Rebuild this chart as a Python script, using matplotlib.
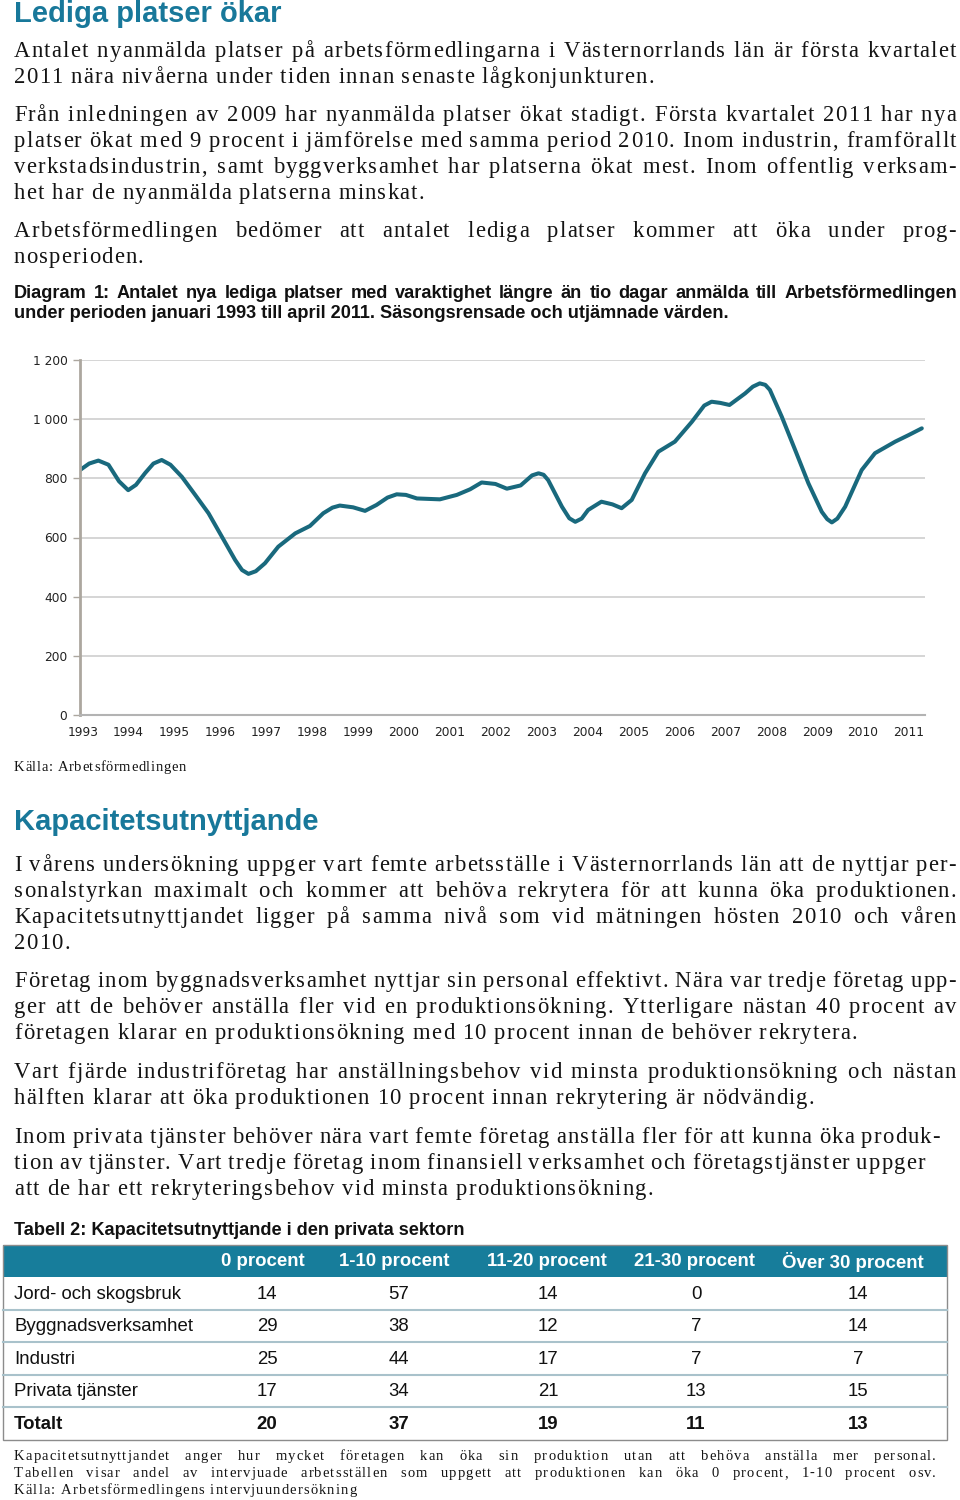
import matplotlib
matplotlib.use("Agg")
import matplotlib.pyplot as plt
from matplotlib.patches import Rectangle
from matplotlib import font_manager
from matplotlib.ft2font import FT2Font

# --- DATA: Diagram 1, nya lediga platser (avläst, säsongsrensat) ---
ar = [1993.00, 1993.20, 1993.40, 1993.62, 1993.85, 1994.05, 1994.22, 1994.42, 1994.60,
      1994.78, 1994.97, 1995.22, 1995.51, 1995.80, 1996.09, 1996.38, 1996.53, 1996.67,
      1996.83, 1997.03, 1997.32, 1997.69, 1998.01, 1998.30, 1998.50, 1998.66, 1998.95,
      1999.21, 1999.46, 1999.70, 1999.90, 2000.10, 2000.34, 2000.84, 2001.21, 2001.50,
      2001.75, 2002.05, 2002.30, 2002.60, 2002.85, 2002.99, 2003.10, 2003.20, 2003.50,
      2003.66, 2003.79, 2003.93, 2004.07, 2004.36, 2004.60, 2004.80, 2005.02, 2005.31,
      2005.60, 2005.96, 2006.33, 2006.60, 2006.76, 2006.95, 2007.15, 2007.49, 2007.66,
      2007.81, 2007.93, 2008.03, 2008.29, 2008.58, 2008.87, 2009.16, 2009.28, 2009.38,
      2009.50, 2009.67, 2010.03, 2010.32, 2010.76, 2011.05, 2011.34]
platser = [828, 850, 860, 846, 790, 760, 778, 818, 850,
           862, 846, 805, 744, 682, 603, 524, 490, 477,
           486, 513, 569, 614, 639, 682, 701, 708, 702,
           690, 710, 735, 746, 744, 732, 729, 744, 763,
           786, 781, 765, 776, 810, 817, 812, 794, 704,
           665, 653, 664, 693, 721, 712, 699, 727, 817,
           890, 924, 991, 1046, 1059, 1055, 1048, 1087, 1110,
           1121, 1116, 1099, 1008, 896, 783, 687, 662, 651,
           664, 704, 828, 885, 924, 946, 969]

ar_etiketter = list(range(1993, 2012))
y_ticks = [0, 200, 400, 600, 800, 1000, 1200]
y_etiketter = ["0", "200", "400", "600", "800", "1 000", "1 200"]

# --- DATA: Tabell 2 ---
kolumner = ["0 procent", "1-10 procent", "11-20 procent", "21-30 procent", "Över 30 procent"]
branscher = ["Jord- och skogsbruk", "Byggnadsverksamhet", "Industri", "Privata tjänster", "Totalt"]
andel_0 = [14, 29, 25, 17, 20]
andel_1_10 = [57, 38, 44, 34, 37]
andel_11_20 = [14, 12, 17, 21, 19]
andel_21_30 = [0, 7, 7, 13, 11]
andel_over_30 = [14, 14, 7, 15, 13]

TEAL = "#18789a"
SANS = "Liberation Sans"
SERIF = "Liberation Serif"
SVART = "#141414"

W, H = 960, 1500
fig = plt.figure(figsize=(9.6, 15), dpi=100)
page = fig.add_axes([0, 0, 1, 1])
page.set_xlim(0, W)
page.set_ylim(H, 0)
page.axis("off")
renderer = fig.canvas.get_renderer()

_fonter = {}


def adv(ch, family, size):
    # teckenbredd (advance) i pixlar
    key = (family, size)
    if key not in _fonter:
        f = FT2Font(font_manager.findfont(font_manager.FontProperties(family=family)))
        f.set_size(size, 100)
        _fonter[key] = (f, {})
    f, cache = _fonter[key]
    if ch not in cache:
        g = f.load_char(ord(ch))
        cache[ch] = g.linearHoriAdvance / 65536
    return cache[ch]


def sparrad(txt, x, y, right=None, spar=1.2, size=16.3, family=SERIF, color=SVART):
    # rad med spärrad text (extra teckenavstånd), marginaljusterad om right anges
    ord_ = txt.split(" ")
    rena = [sum(adv(c, family, size) for c in w) for w in ord_]
    antal = sum(len(w) - 1 for w in ord_)
    if right is not None:
        min_gap = 4
        ledigt = right - x - sum(rena) - min_gap * (len(ord_) - 1)
        spar = min(spar, ledigt / max(antal, 1))
    bredd = [r + spar * (len(w) - 1) for r, w in zip(rena, ord_)]
    if right is None:
        gap = adv(" ", family, size) + 2 * spar
    else:
        gap = (right - x - sum(bredd)) / max(len(ord_) - 1, 1)
    pos = x
    for w, b in zip(ord_, bredd):
        p = pos
        for c in w:
            page.text(p, y, c, family=family, fontsize=size, color=color, va="baseline")
            p += adv(c, family, size) + spar
        pos += b + gap


def stycke(rader, y0, dy=26, x=14, right=956, **kw):
    for i, r in enumerate(rader):
        hog = right if i < len(rader) - 1 else None
        sparrad(r, x, y0 + i * dy, hog, **kw)


def rad(txt, x, y, right=None, **kw):
    # vanlig rad (ordvis justering)
    if right is None:
        page.text(x, y, txt, va="baseline", **kw)
        return
    ord_ = txt.split(" ")
    objs = [page.text(0, y, w, va="baseline", **kw) for w in ord_]
    bredd = [o.get_window_extent(renderer).width for o in objs]
    gap = (right - x - sum(bredd)) / max(len(ord_) - 1, 1)
    pos = x
    for o, b in zip(objs, bredd):
        o.set_x(pos)
        pos += b + gap


# --- Avsnitt 1 ---
page.text(14, 22, "Lediga platser ökar", family=SANS, fontweight="bold",
          fontsize=21, color=TEAL, va="baseline")
stycke(["Antalet nyanmälda platser på arbetsförmedlingarna i Västernorrlands län är första kvartalet",
        "2011 nära nivåerna under tiden innan senaste lågkonjunkturen."], 57)
stycke(["Från inledningen av 2009 har nyanmälda platser ökat stadigt. Första kvartalet 2011 har nya",
        "platser ökat med 9 procent i jämförelse med samma period 2010. Inom industrin, framförallt",
        "verkstadsindustrin, samt byggverksamhet har platserna ökat mest. Inom offentlig verksam-",
        "het har de nyanmälda platserna minskat."], 121)
stycke(["Arbetsförmedlingen bedömer att antalet lediga platser kommer att öka under prog-",
        "nosperioden."], 237)

CAP = dict(family=SANS, fontweight="bold", fontsize=13.1, color="#111111")
rad("Diagram 1: Antalet nya lediga platser med varaktighet längre än tio dagar anmälda till Arbetsförmedlingen",
    14, 298, 957, **CAP)
rad("under perioden januari 1993 till april 2011. Säsongsrensade och utjämnade värden.", 14, 318, **CAP)

# --- Diagram ---
ax = fig.add_axes([80 / W, 1 - 715 / H, 845 / W, 355 / H])
ax.plot(ar, platser, color="#19697d", lw=2.9, solid_joinstyle="round", solid_capstyle="round")
ax.set_xlim(1993, 1993 + 845 / 45.9)
ax.set_ylim(0, 1200)
ax.set_yticks(y_ticks)
ax.set_yticklabels(y_etiketter, family="DejaVu Sans", fontsize=8.8, color="#222222")
ax.set_xticks([a + 0.06 for a in ar_etiketter])
ax.set_xticklabels([str(a) for a in ar_etiketter], family="DejaVu Sans", fontsize=8.8,
                   color="#222222")
ax.yaxis.grid(True, color="#cacaca", lw=1.1)
ax.set_axisbelow(True)
ax.spines["top"].set_visible(False)
ax.spines["right"].set_visible(False)
ax.spines["left"].set_color("#aca79f")
ax.spines["left"].set_linewidth(2)
ax.spines["bottom"].set_color("#b3b3b3")
ax.spines["bottom"].set_linewidth(1.5)
ax.tick_params(axis="x", length=0, pad=8)
ax.tick_params(axis="y", length=5, width=1, color="#aca79f", pad=4)

sparrad("Källa: Arbetsförmedlingen", 14, 771, spar=0.6, size=10.5)

# --- Avsnitt 2 ---
page.text(14, 830, "Kapacitetsutnyttjande", family=SANS, fontweight="bold",
          fontsize=21, color=TEAL, va="baseline")
stycke(["I vårens undersökning uppger vart femte arbetsställe i Västernorrlands län att de nyttjar per-",
        "sonalstyrkan maximalt och kommer att behöva rekrytera för att kunna öka produktionen.",
        "Kapacitetsutnyttjandet ligger på samma nivå som vid mätningen hösten 2010 och våren",
        "2010."], 871)
stycke(["Företag inom byggnadsverksamhet nyttjar sin personal effektivt. Nära var tredje företag upp-",
        "ger att de behöver anställa fler vid en produktionsökning. Ytterligare nästan 40 procent av",
        "företagen klarar en produktionsökning med 10 procent innan de behöver rekrytera."], 987)
stycke(["Vart fjärde industriföretag har anställningsbehov vid minsta produktionsökning och nästan",
        "hälften klarar att öka produktionen 10 procent innan rekrytering är nödvändig."], 1078)
sparrad("Inom privata tjänster behöver nära vart femte företag anställa fler för att kunna öka produk-",
        14, 1143, 940)
sparrad("tion av tjänster. Vart tredje företag inom finansiell verksamhet och företagstjänster uppger",
        14, 1169, 925)
sparrad("att de har ett rekryteringsbehov vid minsta produktionsökning.", 14, 1195)

# --- Tabell 2 ---
page.text(14, 1235, "Tabell 2: Kapacitetsutnyttjande i den privata sektorn", family=SANS,
          fontweight="bold", fontsize=13.1, color="#111111", va="baseline")

x0, x1 = 3, 947
h_top, h_bot = 1245, 1277
rad_h = 32.5
page.add_patch(Rectangle((x0, h_top), x1 - x0, h_bot - h_top, color="#177d9b", lw=0))
kol_x = [263, 394, 547, 694, 853]
for j, k in enumerate(kolumner):
    page.text(kol_x[j], (h_top + h_bot) / 2 + 1, k, ha="center", va="center", color="white",
              fontweight="bold", fontsize=13.4, family=SANS)

varden = list(zip(andel_0, andel_1_10, andel_11_20, andel_21_30, andel_over_30))
val_x = [267, 399, 548, 696, 858]
for i, b in enumerate(branscher):
    yc = h_bot + (i + 0.5) * rad_h + 1
    vikt = "bold" if b == "Totalt" else "normal"
    page.text(14, yc, b, va="center", fontsize=13.4, family=SANS, fontweight=vikt, color="#111111")
    for j, v in enumerate(varden[i]):
        page.text(val_x[j], yc, str(v), ha="center", va="center", fontsize=13.4, family=SANS,
                  fontweight=vikt, color="#111111")
    if i < len(branscher) - 1:
        page.plot([x0, x1], [h_bot + (i + 1) * rad_h] * 2, color="#a9c2cb", lw=1.5)
botten = h_bot + len(branscher) * rad_h
page.add_patch(Rectangle((x0, h_top), x1 - x0, botten - h_top, fill=False, ec="#8c8c8c", lw=1))

stycke(["Kapacitetsutnyttjandet anger hur mycket företagen kan öka sin produktion utan att behöva anställa mer personal.",
        "Tabellen visar andel av intervjuade arbetsställen som uppgett att produktionen kan öka 0 procent, 1-10 procent osv.",
        "Källa: Arbetsförmedlingens intervjuundersökning"], 1460, dy=17, right=936, spar=1.1, size=10.5)

fig.savefig("out.png", dpi=100)
